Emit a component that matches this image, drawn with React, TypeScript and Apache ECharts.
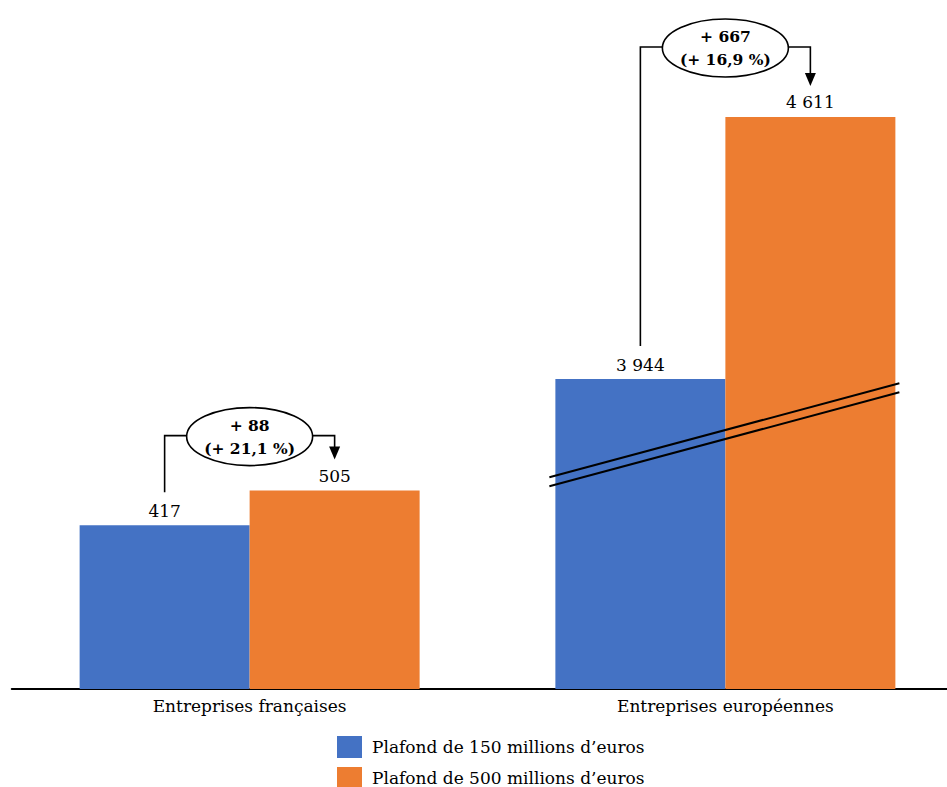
import React, { useEffect, useRef } from "react";
import * as echarts from "echarts";

const categories = ["Entreprises françaises", "Entreprises européennes"];
const seriesNames = ["Plafond de 150 millions d’euros", "Plafond de 500 millions d’euros"];
const plafond150 = [417, 3944];
const plafond500 = [505, 4611];
const axisBreak = { start: 600, end: 3755 };
const yMax = 4700;

const BLUE = "#4472C4";
const ORANGE = "#ED7D31";
const FONT = "'DejaVu Serif', 'Liberation Serif', serif";

const fmt = (v: number) => String(v).replace(/\B(?=(\d{3})+(?!\d))/g, " ");
const fmtPct = (v: number) => v.toFixed(1).replace(".", ",");

export default function App() {
  const ref = useRef<HTMLDivElement>(null);
  useEffect(() => {
    if (!ref.current) return;
    const chart = echarts.init(ref.current, undefined, { renderer: "svg" });
    const barWidth = 170;
    const legendCommon = {
      orient: "vertical",
      left: 337,
      padding: 0,
      itemWidth: 25,
      itemHeight: 22,
      icon: "rect",
      textStyle: { color: "#000", fontSize: 17, fontFamily: FONT, padding: [0, 0, 0, 5] },
    };
    const labelCommon = {
      show: true,
      position: "top",
      distance: 6,
      color: "#000",
      fontSize: 17,
      fontFamily: FONT,
      formatter: (p: any) => fmt(p.value),
    };
    chart.setOption({
      animation: false,
      backgroundColor: "#fff",
      grid: { left: 11.75, width: 951.5, top: 82, bottom: 98, containLabel: false },
      xAxis: {
        type: "category",
        data: categories,
        axisLine: { show: true, lineStyle: { color: "#000", width: 2 } },
        axisTick: { show: false },
        axisLabel: { color: "#000", fontSize: 17, fontFamily: FONT, margin: 8 },
      },
      yAxis: {
        type: "value",
        min: 0,
        max: yMax,
        axisLine: { show: false },
        axisTick: { show: false },
        axisLabel: { show: false },
        splitLine: { show: false },
        breaks: [{ start: axisBreak.start, end: axisBreak.end, gap: 0 }],
        breakArea: { show: false, itemStyle: { opacity: 0 } },
      },
      legend: [
        { ...legendCommon, top: 736, data: [seriesNames[0]] },
        { ...legendCommon, top: 767, data: [seriesNames[1]] },
      ],
      series: [
        {
          name: seriesNames[0],
          type: "bar",
          data: plafond150,
          barWidth,
          barGap: "0%",
          itemStyle: { color: BLUE },
          label: labelCommon,
        },
        {
          name: seriesNames[1],
          type: "bar",
          data: plafond500,
          barWidth,
          barGap: "0%",
          itemStyle: { color: ORANGE },
          label: labelCommon,
        },
      ],
    });

    const px = (i: number, v: number) => chart.convertToPixel({ xAxisIndex: 0, yAxisIndex: 0 }, [i, v]) as number[];
    const ellipseOffset = [54, 69];
    const graphics: any[] = [];
    const lineStyle = { stroke: "#000", lineWidth: 1.6, fill: null };
    categories.forEach((_, i) => {
      const [cx, yb] = px(i, plafond150[i]);
      const [, yo] = px(i, plafond500[i]);
      const bx = cx - barWidth / 2;
      const ox = cx + barWidth / 2;
      const ey = yo - ellipseOffset[i];
      const rx = 63;
      const ry = 29;
      graphics.push({ type: "polyline", shape: { points: [[bx, yb - 33], [bx, ey - 1], [cx - rx, ey - 1]] }, style: lineStyle, z: 10 });
      graphics.push({ type: "polyline", shape: { points: [[cx + rx, ey - 1], [ox, ey - 1], [ox, yo - 43]] }, style: lineStyle, z: 10 });
      graphics.push({ type: "polygon", shape: { points: [[ox - 5.5, yo - 44], [ox + 5.5, yo - 44], [ox, yo - 31]] }, style: { fill: "#000" }, z: 10 });
      graphics.push({ type: "ellipse", shape: { cx, cy: ey, rx, ry }, style: { fill: "#fff", stroke: "#000", lineWidth: 1.6 }, z: 11 });
      const d = plafond500[i] - plafond150[i];
      const pct = (d / plafond150[i]) * 100;
      graphics.push({
        type: "text",
        x: cx,
        y: ey,
        z: 12,
        style: {
          text: `+ ${fmt(d)}\n(+ ${fmtPct(pct)} %)`,
          fill: "#000",
          font: `bold 15.5px ${FONT}`,
          lineHeight: 23,
          align: "center",
          verticalAlign: "middle",
        },
      });
    });
    // break marks across the second group
    const [c2] = px(1, 0);
    const [, yBreak] = px(1, axisBreak.start);
    [0, 9].forEach((off) => {
      graphics.push({
        type: "line",
        shape: { x1: c2 - 176, y1: yBreak + 24 + off, x2: c2 + 174, y2: yBreak - 70 + off },
        style: { stroke: "#000", lineWidth: 2 },
        z: 10,
      });
    });
    chart.setOption({ graphic: graphics });

    return () => chart.dispose();
  }, []);
  return (
    <div style={{ position: "absolute", left: 0, top: 0, width: 947, height: 787, overflow: "hidden" }}>
      <div ref={ref} style={{ width: 975, height: 787 }} />
    </div>
  );
}
